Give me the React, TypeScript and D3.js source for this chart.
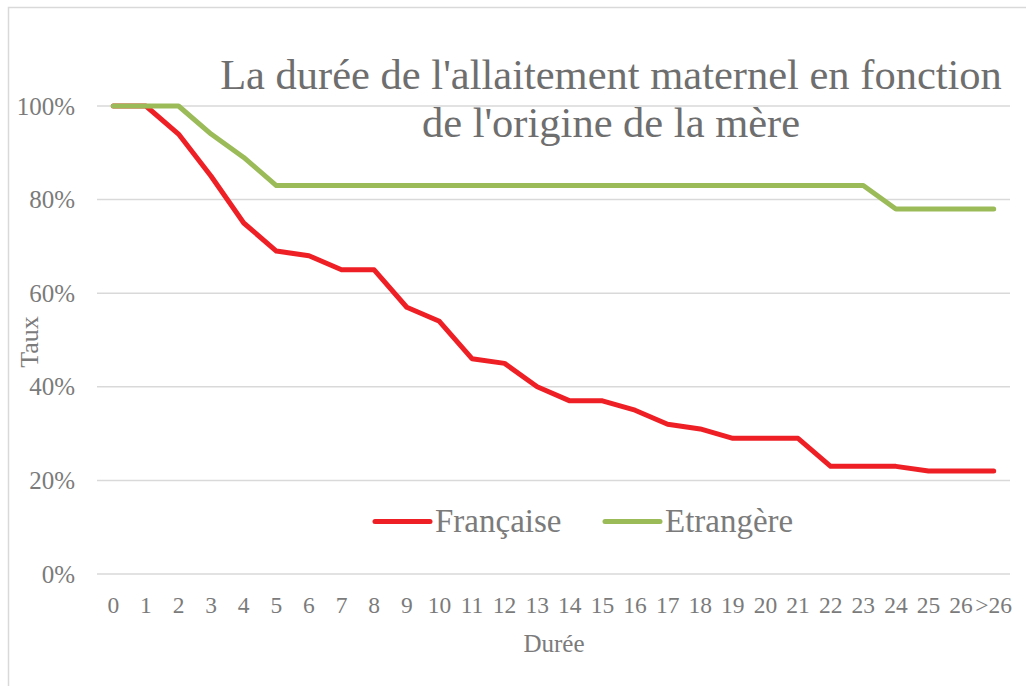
import React from "react";
import * as d3 from "d3";

const categories = ["0","1","2","3","4","5","6","7","8","9","10","11","12","13","14","15","16","17","18","19","20","21","22","23","24","25","26",">26"];
const francaise = [100,100,94,85,75,69,68,65,65,57,54,46,45,40,37,37,35,32,31,29,29,29,23,23,23,22,22,22];
const etrangere = [100,100,100,94,89,83,83,83,83,83,83,83,83,83,83,83,83,83,83,83,83,83,83,83,78,78,78,78];
const yTicks = [0, 0.2, 0.4, 0.6, 0.8, 1.0];
const seriesNames = ["Française", "Etrangère"];
const colors = ["#EE2026", "#9BBB59"];
const titleLines = ["La durée de l'allaitement maternel en fonction", "de l'origine de la mère"];

export default function App() {
  const W = 1026, H = 686;
  const x = d3.scalePoint<string>().domain(categories).range([97, 1010]).padding(0.5);
  const y = d3.scaleLinear().domain([0, 1]).range([574, 106]);
  const line = d3.line<number>()
    .x((_, i) => x(categories[i]) as number)
    .y((v) => y(v / 100));
  const series = [francaise, etrangere];
  const font = "'Liberation Serif', 'Times New Roman', serif";
  const grey = "#7b7b7b";
  const legendX = [375, 605];
  return (
    <svg width={W} height={H} style={{ position: "absolute", left: 0, top: 0, background: "#fff" }} fontFamily={font}>
      <rect x={0} y={0} width={W} height={H} fill="#fff" />
      <rect x={8.5} y={7.5} width={W + 20} height={H + 20} fill="none" stroke="#d9d9d9" strokeWidth={1.5} />
      {yTicks.map((t) => (
        <g key={t}>
          <line x1={97} x2={1010} y1={y(t)} y2={y(t)} stroke="#d9d9d9" strokeWidth={1.5} />
          <text x={75} y={y(t)} dy="0.34em" textAnchor="end" fontSize={25} fill={grey}>{d3.format(".0%")(t)}</text>
        </g>
      ))}
      {categories.map((c) => (
        <text key={c} x={x(c)} y={613} textAnchor="middle" fontSize={23.5} fill={grey}>{c}</text>
      ))}
      <text x={554} y={652} textAnchor="middle" fontSize={25} fill={grey}>Durée</text>
      <text transform={`translate(38,342) rotate(-90)`} textAnchor="middle" fontSize={26} fill={grey}>Taux</text>
      {series.map((s, i) => (
        <path key={i} d={line(s) as string} fill="none" stroke={colors[i]} strokeWidth={5} strokeLinejoin="round" strokeLinecap="round" />
      ))}
      {titleLines.map((t, i) => (
        <text key={i} x={611} y={89 + i * 48} textAnchor="middle" fontSize={42.5} fill="#6e6e6e">{t}</text>
      ))}
      {seriesNames.map((n, i) => (
        <g key={n}>
          <line x1={legendX[i]} x2={legendX[i] + 55} y1={521.5} y2={521.5} stroke={colors[i]} strokeWidth={5} strokeLinecap="round" />
          <text x={legendX[i] + 60} y={532} fontSize={33} fill={grey}>{n}</text>
        </g>
      ))}
    </svg>
  );
}
